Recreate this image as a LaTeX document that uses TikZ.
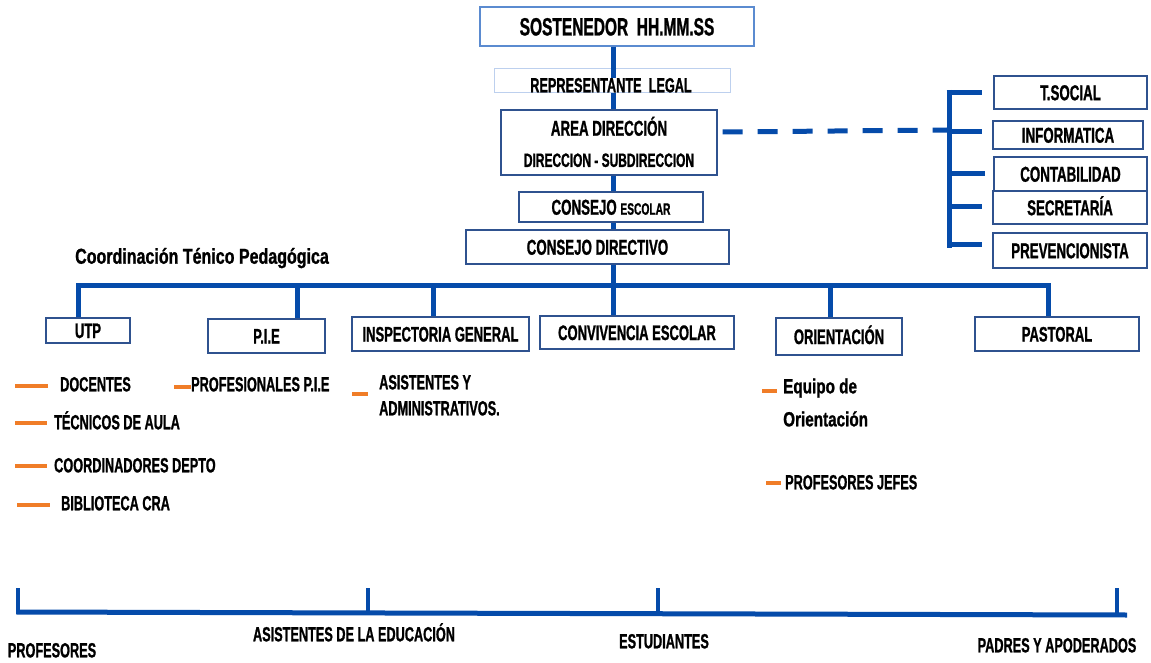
\documentclass[tikz,border=0pt]{standalone}
\usepackage{fontspec}
\newfontfamily\cf{Liberation Sans}[FakeStretch=0.62, FakeBold=1]
\newfontfamily\cfw{Liberation Sans}[FakeStretch=0.745, FakeBold=1]
\usetikzlibrary{calc}
\definecolor{lblue}{RGB}{5,75,170}
\definecolor{bord}{HTML}{2F528F}
\definecolor{sbord}{HTML}{5B8BD0}
\definecolor{rbord}{HTML}{BDD0EE}
\definecolor{orng}{RGB}{240,125,40}
\tikzset{
  F/.style={font=\cf\bfseries\fontsize{#1}{#1}\selectfont, text height={0.716*#1pt}, text depth=0pt},
  W/.style={font=\cfw\bfseries\fontsize{#1}{#1}\selectfont, text height={0.716*#1pt}, text depth=0pt},
  box/.style={draw=bord, line width=1.3pt, fill=white, inner sep=0pt},
  bx/.style 2 args={minimum width=#1pt, minimum height=#2pt},
  txt/.style={inner sep=0pt},
  bus/.style={draw=lblue, line width=5pt},
  tick/.style={draw=lblue, line width=3.5pt},
  odash/.style={draw=orng, line width=4.5pt},
}
\begin{document}
\begin{tikzpicture}[x=1pt,y=-1pt]
\useasboundingbox[fill=white] (0,0) rectangle (1151,663);
% coordinates for the spine / bus
\coordinate (hub) at (613,285);
\coordinate (bL) at (78,285);
\coordinate (bR) at (1048,285);
\coordinate (dP) at (297,285);
\coordinate (dI) at (433,285);
\coordinate (dO) at (830,285);
\coordinate (brk) at (949,0);

% top chain
\node[box, draw=sbord, line width=1.5pt, bx={274}{39}, F=25] (sost) at (617,26.5) {SOSTENEDOR\ \ HH.MM.SS};
\node[draw=rbord, line width=1pt, fill=white, inner sep=0pt, bx={236}{24}] (rep) at (612,81) {};
\draw[bus] (rep.north -| hub) -- ++(0,10);
\node[txt, F=20.5, fill=white] (reptxt) at (611,85) {REPRESENTANTE\ \ LEGAL};
\node[box, bx={216}{65}] (area) at (609,142.5) {};
\node[txt, F=21.5] (area1) at (609,128) {AREA DIRECCIÓN};
\node[txt, F=19.3] (area2) at (609,160) {DIRECCION - SUBDIRECCION};
\node[box, bx={184}{30}, F=21.5] (cesc) at (611,207) {CONSEJO {\fontsize{16.5}{16.5}\selectfont ESCOLAR}};
\node[box, bx={263}{34}, F=21.5] (cdir) at (597.5,247) {CONSEJO DIRECTIVO};

% right column
\node[box, bx={153}{33}, F=21.5] (ts) at (1070.5,92.5) {T.SOCIAL};
\node[box, bx={150}{28}, F=21.5] (inf) at (1068,135) {INFORMATICA};
\node[box, bx={153}{34}, F=21.5] (cont) at (1070.5,174) {CONTABILIDAD};
\node[box, bx={154}{33}, F=21.5] (sec) at (1070,207.5) {SECRETARÍA};
\node[box, bx={154}{35}, F=21.5] (prev) at (1070,250.5) {PREVENCIONISTA};

\draw[bus] ($(brk |- ts.west)+(0,-2.5)$) -- ($(brk |- prev.west)+(0,-3)$);
\draw[bus] ($(brk |- ts.west)+(-2.5,0.5)$) -- ++(35.5,0);
\draw[bus] ($(brk |- inf.west)+(0,-3)$) -- ++(33,0);
\draw[bus] (brk |- cont.west) -- ++(36,0);
\draw[bus] ($(brk |- sec.west)+(0,-0.5)$) -- ++(33,0);
\draw[bus] ($(brk |- prev.west)+(0,-6.5)$) -- ++(33,0);
\draw[bus, dash pattern=on 20pt off 15pt] ($(area.east)+(5,-10.5)$) -- ($(brk)+(-2,130)$);

% second level
\node[txt, W=21.5, anchor=west] (ctp) at (75,256) {Coordinación Ténico Pedagógica};
\node[box, bx={84}{25}, F=21] (utp) at (88,330.5) {UTP};
\node[box, bx={117}{34}, F=21] (pie) at (266.5,336) {P.I.E};
\node[box, bx={177}{34}, F=21] (insp) at (440.5,334) {INSPECTORIA GENERAL};
\node[box, bx={194}{33}, F=21] (conv) at (637,332.5) {CONVIVENCIA ESCOLAR};
\node[box, bx={126}{37}, F=21] (ori) at (839,336.5) {ORIENTACIÓN};
\node[box, bx={164}{34}, F=21] (past) at (1057,334) {PASTORAL};

\draw[bus] (cdir.south -| hub) -- (hub);
\draw[bus, line join=miter] (bL |- utp.north) -- (bL) -- (bR) -- (bR |- past.north);
\draw[bus] (dP) -- (dP |- pie.north);
\draw[bus] (dI) -- (dI |- insp.north);
\draw[bus] (hub) -- (hub |- conv.north);
\draw[bus] (dO) -- (dO |- ori.north);

% spine segments between boxes
\draw[bus] (sost.south -| hub) -- ($(rep.north -| hub)+(0,10)$);
\draw[bus] (rep.south -| hub) -- (area.north -| hub);
\draw[bus] (area.south -| hub) -- (cesc.north -| hub);
\draw[bus] (cesc.south -| hub) -- (cdir.north -| hub);

% sub items
\draw[odash] (15,386) -- (48,386);
\node[txt, F=20.5, anchor=west] (doc) at (60,384) {DOCENTES};
\draw[odash] (15,423) -- (47,423);
\node[txt, F=20.5, anchor=west] (tec) at (54,422) {TÉCNICOS DE AULA};
\draw[odash] (15,466) -- (47,466);
\node[txt, F=20.5, anchor=west] (coo) at (54,465) {COORDINADORES DEPTO};
\draw[odash] (17,505) -- (50,505);
\node[txt, F=20.5, anchor=west] (bib) at (61,503) {BIBLIOTECA CRA};
\draw[odash] (174,387) -- (191,387);
\node[txt, F=20.5, anchor=west] (prof) at (191,384) {PROFESIONALES P.I.E};
\draw[odash] (352,394) -- (368,394);
\node[txt, F=20.5, anchor=west] (asis1) at (379,382) {ASISTENTES Y};
\node[txt, F=20.5, anchor=west] (asis2) at (379,408) {ADMINISTRATIVOS.};
\draw[odash] (762,391) -- (777,391);
\node[txt, W=20.5, anchor=west] (eq1) at (783,386) {Equipo de};
\node[txt, W=20.5, anchor=west] (eq2) at (783,419) {Orientación};
\draw[odash] (766,483) -- (781,483);
\node[txt, F=20.5, anchor=west] (pj) at (785,482) {PROFESORES JEFES};

% bottom timeline
\coordinate (t1) at (18,612);
\coordinate (t2) at (368,613);
\coordinate (t3) at (658,614);
\coordinate (t4) at (1117,615);
\draw[bus] ($(t1)+(-1.5,0)$) -- ($(t4)+(10,0)$);
\draw[tick] (18,588) -- (t1) -- ++(0,2);
\draw[tick] (368,588) -- (t2);
\draw[tick] (658,588) -- (t3);
\draw[tick] (1117,588) -- (t4) -- ++(0,2);
\node[txt, F=20.5] (lp) at (52,650) {PROFESORES};
\node[txt, F=20.5] (la) at (354,634) {ASISTENTES DE LA EDUCACIÓN};
\node[txt, F=20.5] (le) at (664,641) {ESTUDIANTES};
\node[txt, F=20.5] (lpa) at (1057,645) {PADRES Y APODERADOS};
\end{tikzpicture}
\end{document}
